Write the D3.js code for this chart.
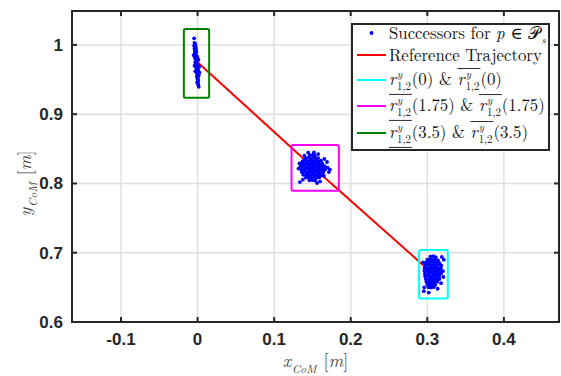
<!DOCTYPE html>
<html>
<head>
<meta charset="utf-8">
<script src="https://cdn.jsdelivr.net/npm/d3@7"></script>
<style>
  body { margin: 0; background: #fff; }
  svg { display: block; }
  svg text { white-space: pre; }
</style>
</head>
<body>
<div id="chart"></div>
<script>
var W = 561, H = 376;
var margin = {top: 11, right: 2, bottom: 54, left: 72},
    width = W - margin.left - margin.right,
    height = H - margin.top - margin.bottom;

// axis ranges and ticks
var xDomain = [-0.164, 0.472],
    yDomain = [0.6, 1.049],
    xTicks = [-0.1, 0, 0.1, 0.2, 0.3, 0.4],
    yTicks = [0.6, 0.7, 0.8, 0.9, 1];

// reference trajectory
var trajX = [0, 0.15, 0.305],
    trajY = [0.975, 0.824, 0.672];

// bounds r(t) boxes : cyan t=0, magenta t=1.75, green t=3.5
var boxColors = ['#00ffff', '#ff00ff', '#008000'],
    boxX0 = [0.2893, 0.1227, -0.0179],
    boxX1 = [0.3268, 0.1845, 0.0151],
    boxY0 = [0.634, 0.7895, 0.9238],
    boxY1 = [0.7038, 0.8555, 1.0231];

// successors
var succT0 = [
  [0.3040,0.6945],[0.3078,0.6950],[0.3110,0.6935],
  [0.3000,0.6900],[0.3036,0.6905],[0.3072,0.6895],[0.3104,0.6902],[0.3140,0.6890],
  [0.2985,0.6862],[0.3020,0.6858],[0.3056,0.6866],[0.3090,0.6855],[0.3126,0.6862],[0.3160,0.6850],
  [0.2974,0.6820],[0.3010,0.6825],[0.3046,0.6815],[0.3080,0.6822],[0.3116,0.6812],[0.3150,0.6825],[0.3182,0.6818],
  [0.2965,0.6782],[0.3006,0.6776],[0.3040,0.6785],[0.3076,0.6778],[0.3110,0.6786],[0.3146,0.6775],[0.3178,0.6780],
  [0.2962,0.6742],[0.3004,0.6738],[0.3040,0.6745],[0.3075,0.6736],[0.3110,0.6744],[0.3144,0.6735],[0.3176,0.6740],
  [0.2968,0.6702],[0.3010,0.6698],[0.3046,0.6706],[0.3080,0.6696],[0.3116,0.6704],[0.3150,0.6695],[0.3180,0.6702],
  [0.2972,0.6662],[0.3015,0.6665],[0.3050,0.6656],[0.3086,0.6664],[0.3120,0.6655],[0.3156,0.6662],
  [0.2980,0.6622],[0.3020,0.6618],[0.3056,0.6626],[0.3090,0.6616],[0.3124,0.6624],[0.3158,0.6620],
  [0.2988,0.6582],[0.3026,0.6578],[0.3060,0.6585],[0.3096,0.6576],[0.3130,0.6582],
  [0.3000,0.6542],[0.3036,0.6538],[0.3070,0.6545],[0.3105,0.6536],
  [0.3015,0.6502],[0.3050,0.6498],[0.3085,0.6505],
  [0.3215,0.6900],[0.3210,0.6650],[0.2960,0.6500],[0.2955,0.6445],[0.3020,0.6425],
  [0.3180,0.6560],[0.3205,0.6735],[0.2945,0.6860],[0.3190,0.6940],[0.3135,0.6480]
];
var succT175 = [
  [0.1465,0.8405],[0.1500,0.8412],[0.1532,0.8400],
  [0.1405,0.8362],[0.1440,0.8370],[0.1472,0.8360],[0.1508,0.8368],[0.1545,0.8358],[0.1575,0.8366],
  [0.1372,0.8322],[0.1407,0.8330],[0.1441,0.8320],[0.1476,0.8328],[0.1510,0.8318],[0.1546,0.8326],[0.1580,0.8320],[0.1612,0.8328],
  [0.1352,0.8285],[0.1386,0.8280],[0.1420,0.8290],[0.1456,0.8282],[0.1490,0.8288],[0.1524,0.8278],[0.1560,0.8286],[0.1594,0.8280],[0.1628,0.8288],
  [0.1344,0.8245],[0.1380,0.8250],[0.1414,0.8240],[0.1450,0.8248],[0.1486,0.8242],[0.1520,0.8250],[0.1555,0.8240],[0.1590,0.8248],[0.1625,0.8242],[0.1660,0.8250],
  [0.1350,0.8205],[0.1386,0.8200],[0.1420,0.8210],[0.1455,0.8202],[0.1490,0.8208],[0.1525,0.8200],[0.1560,0.8206],[0.1594,0.8198],[0.1630,0.8206],[0.1666,0.8200],
  [0.1360,0.8165],[0.1394,0.8170],[0.1430,0.8160],[0.1465,0.8168],[0.1500,0.8162],[0.1535,0.8170],[0.1570,0.8160],[0.1604,0.8168],[0.1640,0.8162],
  [0.1380,0.8125],[0.1415,0.8120],[0.1450,0.8130],[0.1485,0.8122],[0.1520,0.8128],[0.1555,0.8120],[0.1590,0.8126],[0.1625,0.8118],
  [0.1415,0.8085],[0.1450,0.8090],[0.1485,0.8080],[0.1520,0.8088],[0.1555,0.8082],[0.1590,0.8088],
  [0.1460,0.8045],[0.1498,0.8050],[0.1535,0.8042],
  [0.1318,0.8215],[0.1330,0.8290],[0.1375,0.8055],[0.1336,0.8020],[0.1700,0.8230],[0.1715,0.8165],
  [0.1690,0.8310],[0.1560,0.8005],[0.1600,0.8030],[0.1445,0.8445],[0.1520,0.8450],[0.1395,0.8400],
  [0.1650,0.8110],[0.1655,0.8355],[0.1728,0.8200],[0.1575,0.8425]
];
var succT35 = [
  [-0.0045,1.0095],
  [-0.0040,1.0030],[-0.0030,1.0010],[-0.0045,0.9990],[-0.0025,0.9970],[-0.0040,0.9950],[-0.0020,0.9940],
  [-0.0035,0.9920],[-0.0015,0.9900],[-0.0030,0.9890],[-0.0040,0.9870],[-0.0020,0.9860],[-0.0050,0.9850],
  [-0.0025,0.9840],[-0.0005,0.9830],[-0.0035,0.9810],[-0.0015,0.9800],[0.0010,0.9790],[-0.0020,0.9780],
  [0.0000,0.9770],[-0.0030,0.9750],[-0.0010,0.9740],[-0.0020,0.9720],[0.0005,0.9710],[-0.0040,0.9700],
  [-0.0015,0.9690],[0.0020,0.9680],[-0.0025,0.9680],[0.0000,0.9660],[-0.0010,0.9640],[0.0010,0.9630],
  [-0.0030,0.9620],[-0.0015,0.9610],[0.0025,0.9600],[0.0000,0.9590],[-0.0005,0.9570],[0.0015,0.9560],
  [-0.0010,0.9540],[0.0005,0.9520],[0.0000,0.9500],[0.0010,0.9480],[-0.0005,0.9460],[0.0005,0.9440],
  [0.0010,0.9420],[0.0015,0.9395]
];

var x = d3.scaleLinear().domain(xDomain).range([0, width]),
    y = d3.scaleLinear().domain(yDomain).range([height, 0]);

var svg = d3.select('#chart').append('svg')
  .attr('width', W)
  .attr('height', H)
  .style('font-family', '"Liberation Sans", Arial, sans-serif');

svg.append('rect').attr('width', W).attr('height', H).attr('fill', '#fff');

var g = svg.append('g')
  .attr('transform', 'translate(' + margin.left + ',' + margin.top + ')');

// grid
g.selectAll('.gx').data(xTicks).enter().append('line')
  .attr('x1', function(d) { return x(d); }).attr('x2', function(d) { return x(d); })
  .attr('y1', 0).attr('y2', height)
  .attr('stroke', '#e0e0e0').attr('stroke-width', 1.5);
g.selectAll('.gy').data(yTicks).enter().append('line')
  .attr('y1', function(d) { return y(d); }).attr('y2', function(d) { return y(d); })
  .attr('x1', 0).attr('x2', width)
  .attr('stroke', '#e0e0e0').attr('stroke-width', 1.5);

// reference trajectory
var line = d3.line().x(function(d) { return x(d[0]); }).y(function(d) { return y(d[1]); });
g.append('path')
  .datum(trajX.map(function(v, i) { return [v, trajY[i]]; }))
  .attr('d', line)
  .attr('fill', 'none').attr('stroke', '#ff0000').attr('stroke-width', 2);

// boxes
boxColors.forEach(function(c, i) {
  g.append('rect')
    .attr('x', x(boxX0[i])).attr('y', y(boxY1[i]))
    .attr('width', x(boxX1[i]) - x(boxX0[i]))
    .attr('height', y(boxY0[i]) - y(boxY1[i]))
    .attr('rx', 1.5)
    .attr('fill', 'none').attr('stroke', c).attr('stroke-width', 2);
});

// successors
[succT0, succT175, succT35].forEach(function(pts) {
  g.selectAll(null).data(pts).enter().append('circle')
    .attr('cx', function(d) { return x(d[0]); })
    .attr('cy', function(d) { return y(d[1]); })
    .attr('r', 1.9)
    .attr('fill', '#0000ff');
});

// frame + inside ticks
var ink = '#262626', tl = 5;
g.append('rect').attr('width', width).attr('height', height)
  .attr('fill', 'none').attr('stroke', ink).attr('stroke-width', 2);
xTicks.forEach(function(t) {
  g.append('line').attr('x1', x(t)).attr('x2', x(t)).attr('y1', height).attr('y2', height - tl)
    .attr('stroke', ink).attr('stroke-width', 2);
  g.append('line').attr('x1', x(t)).attr('x2', x(t)).attr('y1', 0).attr('y2', tl)
    .attr('stroke', ink).attr('stroke-width', 2);
});
yTicks.forEach(function(t) {
  g.append('line').attr('y1', y(t)).attr('y2', y(t)).attr('x1', 0).attr('x2', tl)
    .attr('stroke', ink).attr('stroke-width', 2);
  g.append('line').attr('y1', y(t)).attr('y2', y(t)).attr('x1', width).attr('x2', width - tl)
    .attr('stroke', ink).attr('stroke-width', 2);
});

// tick labels (hyphen minus, like the original)
var fmt = function(d) { return String(d); };
g.selectAll('.xl').data(xTicks).enter().append('text')
  .attr('x', function(d) { return x(d); })
  .attr('y', height + 23)
  .attr('text-anchor', 'middle')
  .style('font-size', '17px').style('font-weight', 'bold').attr('fill', ink)
  .text(fmt);
g.selectAll('.yl').data(yTicks).enter().append('text')
  .attr('x', -9)
  .attr('y', function(d) { return y(d); })
  .attr('dy', '0.35em')
  .attr('text-anchor', 'end')
  .style('font-size', '17px').style('font-weight', 'bold').attr('fill', ink)
  .text(fmt);

// math-ish text helper: parts laid out left to right
var serif = '"Latin Modern Roman", "DejaVu Serif", "Liberation Serif", serif';
function mathText(parent, x0, y0, size, parts) {
  var t = parent.append('g').style('font-family', serif).attr('fill', '#111');
  var cx = x0;
  parts.forEach(function(p) {
    var start = cx;
    var el = t.append('text').attr('x', cx).attr('y', y0)
      .style('font-size', size + 'px')
      .style('font-style', p.it ? 'italic' : 'normal')
      .text(p.s);
    cx += el.node().getComputedTextLength();
    if (p.sup || p.sub) {
      var w2 = 0;
      if (p.sup) {
        var s = t.append('text').attr('x', cx + 1).attr('y', y0 - size * 0.44)
          .style('font-size', (size * 0.64) + 'px').style('font-style', 'italic').text(p.sup);
        w2 = Math.max(w2, s.node().getComputedTextLength());
      }
      if (p.sub) {
        var b = t.append('text').attr('x', cx + 1).attr('y', y0 + size * 0.32)
          .style('font-size', (size * 0.64) + 'px').style('font-style', p.subIt ? 'italic' : 'normal').text(p.sub);
        w2 = Math.max(w2, b.node().getComputedTextLength());
      }
      cx += w2 + 2;
    }
    if (p.under) {
      t.append('line').attr('x1', start).attr('x2', cx).attr('y1', y0 + size * 0.56).attr('y2', y0 + size * 0.56)
        .attr('stroke', '#111').attr('stroke-width', 0.9);
    }
    if (p.over) {
      t.append('line').attr('x1', start).attr('x2', cx).attr('y1', y0 - size * 0.98).attr('y2', y0 - size * 0.98)
        .attr('stroke', '#111').attr('stroke-width', 0.9);
    }
  });
  t.property('textWidth', cx - x0);
  return t;
}

var labelParts = function(v) {
  return [
    {s: v, it: true, sub: 'CoM', subIt: true},
    {s: ' [', it: false}, {s: 'm', it: true}, {s: ']', it: false}
  ];
};

// axis labels, centred on the plot area
var xl = mathText(svg, 0, 0, 18, labelParts('x')).attr('fill', '#444');
xl.attr('transform', 'translate(' + (margin.left + width / 2 - xl.property('textWidth') / 2) + ',367)');
var yl = mathText(svg, 0, 0, 18, labelParts('y')).attr('fill', '#444');
yl.attr('transform', 'translate(31,' + (margin.top + y(0.8) + yl.property('textWidth') / 2) + ') rotate(-90)');

// legend
var lg = svg.append('g');
lg.append('rect').attr('x', 352).attr('y', 24).attr('width', 197).attr('height', 126)
  .attr('fill', '#fff').attr('stroke', ink).attr('stroke-width', 2);
var rowY = [33, 55, 80, 106, 133], sx0 = 357, sx1 = 386, tx = 389, fs = 16.8;
lg.append('circle').attr('cx', (sx0 + sx1) / 2).attr('cy', rowY[0]).attr('r', 1.9).attr('fill', '#0000ff');
var legColors = ['#ff0000'].concat(boxColors);
legColors.forEach(function(c, i) {
  lg.append('line').attr('x1', sx0).attr('x2', sx1).attr('y1', rowY[i + 1]).attr('y2', rowY[i + 1])
    .attr('stroke', c).attr('stroke-width', 2);
});
var times = ['0', '1.75', '3.5'];
mathText(lg, tx, rowY[0] + 6, fs, [{s: 'Successors for '}, {s: 'p', it: true}, {s: ' \u2208 '}, {s: '\u{1D4AB}', sub: 's', subIt: true}]);
mathText(lg, tx, rowY[1] + 6, fs, [{s: 'Reference Trajectory'}]);
times.forEach(function(tm, i) {
  mathText(lg, tx, rowY[i + 2] + 5, fs, [
    {s: 'r', it: true, sup: 'y', sub: '1,2', under: true},
    {s: '(' + tm + ') & '},
    {s: 'r', it: true, sup: 'y', sub: '1,2', over: true},
    {s: '(' + tm + ')'}
  ]);
});
</script>
</body>
</html>
